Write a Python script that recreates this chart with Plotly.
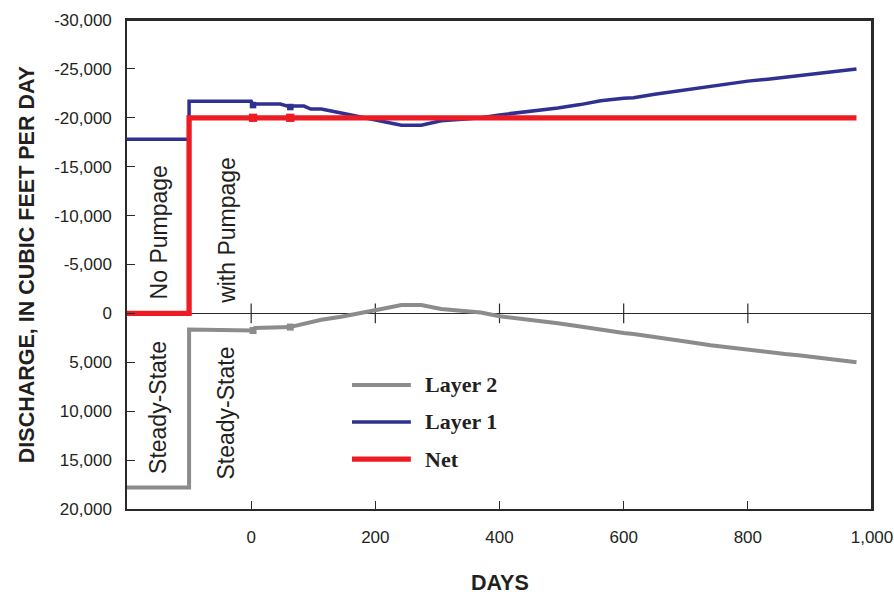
import plotly.graph_objects as go

# ---------------- data ----------------
layer1_days = [-200, -100, -100, 0, 3, 6, 47, 63, 69, 85, 96, 113, 145, 177, 210, 242, 274,
               306, 340, 370, 400, 430, 460, 494, 530, 563, 600, 616, 650, 697, 740, 777,
               800, 832, 860, 885, 910, 938, 960, 975]
layer1_vals = [-17800, -17800, -21700, -21700, -21300, -21400, -21400, -21100, -21200, -21200,
               -20900, -20900, -20500, -20100, -19700, -19250, -19250, -19700, -19850, -20000,
               -20300, -20500, -20700, -21000, -21350, -21750, -22000, -22050, -22400, -22850,
               -23250, -23550, -23750, -23950, -24150, -24300, -24500, -24700, -24850, -25000]

layer2_days = layer1_days
layer2_vals = [17800, 17800, 1650, 1650, 1750, 1500, 1500, 1400, 1300, 1050, 900, 650, 350, 0,
               -450, -850, -850, -450, -250, -100, 300, 500, 700, 1000, 1350, 1700, 2000, 2100,
               2450, 2850, 3250, 3550, 3750, 3950, 4150, 4300, 4500, 4700, 4850, 5000]

net_days = [-200, -100, -100, 3, 63, 975]
net_vals = [0, 0, -20000, -20000, -20000, -20000]

marker_days = [3, 63]

x_tickvals = [0, 200, 400, 600, 800, 1000]
x_ticktext = ["0", "200", "400", "600", "800", "1,000"]
y_tickvals = [-30000, -25000, -20000, -15000, -10000, -5000, 0, 5000, 10000, 15000, 20000]
y_ticktext = ["-30,000", "-25,000", "-20,000", "-15,000", "-10,000", "-5,000", "0",
              "5,000", "10,000", "15,000", "20,000"]

legend_names = ["Layer 2", "Layer 1", "Net"]

# ---------------- styles ----------------
RED = "#ED1C24"
BLUE = "#2E3192"
GRAY = "#8C8C8C"
AXIS = "#2A2A2A"
TXT = "#231F20"
TICKFONT = dict(family="Liberation Sans, Arial", size=17, color=TXT)
TITLEFONT = dict(family="Liberation Sans, Arial", size=21.5, color=TXT)
LABELFONT = dict(family="Liberation Sans, Arial", size=23, color=TXT)
LEGFONT = dict(family="Liberation Serif, Times New Roman, serif", size=22, color=TXT)

fig = go.Figure()

def add_series(days, vals, color, width):
    fig.add_trace(go.Scatter(x=days, y=vals, mode="lines",
                             line=dict(color=color, width=width), showlegend=False,
                             hoverinfo="skip"))
    mx = [d for d in marker_days if d in days]
    my = [vals[days.index(d)] for d in mx]
    fig.add_trace(go.Scatter(x=mx, y=my, mode="markers",
                             marker=dict(symbol="square", size=width + 3, color=color),
                             showlegend=False, hoverinfo="skip"))

# zero-line tick marks (crossing the zero line)
fig.add_trace(go.Scatter(x=x_tickvals[:-1], y=[0] * (len(x_tickvals) - 1), mode="markers",
                         marker=dict(symbol="line-ns-open", size=14, color=AXIS,
                                     line=dict(color=AXIS, width=1.2)),
                         showlegend=False, hoverinfo="skip"))

add_series(layer2_days, layer2_vals, GRAY, 4)
add_series(layer1_days, layer1_vals, BLUE, 3.5)
add_series(net_days, net_vals, RED, 5.3)

# rotated labels in the steady-state region
for txt, xv, yv in [("No Pumpage", -149, -8250), ("with Pumpage", -38, -8500),
                    ("Steady-State", -149, 9600), ("Steady-State", -40, 10200)]:
    fig.add_annotation(x=xv, y=yv, xref="x", yref="y", text=txt, textangle=-90,
                       showarrow=False, font=LABELFONT, xanchor="center", yanchor="middle")

# manual legend
leg_colors = [GRAY, BLUE, RED]
leg_widths = [4, 3.5, 5.3]
leg_y = [0.2536, 0.178, 0.102]
for name, c, w, yy in zip(legend_names, leg_colors, leg_widths, leg_y):
    fig.add_shape(type="line", xref="paper", yref="paper", x0=0.302, x1=0.381, y0=yy, y1=yy,
                  line=dict(color=c, width=w))
    fig.add_annotation(x=0.397, y=yy, xref="paper", yref="paper", text="<b>%s</b>" % name,
                       showarrow=False, xanchor="left", yanchor="middle", font=LEGFONT)

# plot frame (top and right edges)
fig.add_shape(type="line", xref="paper", yref="paper", x0=0, x1=1, y0=1, y1=1,
              line=dict(color=AXIS, width=2), layer="above")
fig.add_shape(type="line", xref="paper", yref="paper", x0=1, x1=1, y0=0, y1=1,
              line=dict(color=AXIS, width=2), layer="above")

# axis titles
fig.add_annotation(x=-0.134, y=0.499, xref="paper", yref="paper",
                   text="<b>DISCHARGE, IN CUBIC FEET PER DAY</b>", textangle=-90,
                   showarrow=False, font=TITLEFONT, xanchor="center", yanchor="middle")
fig.add_annotation(x=0.5, y=-0.151, xref="paper", yref="paper", text="<b>DAYS</b>",
                   showarrow=False, font=TITLEFONT, xanchor="center", yanchor="middle")

fig.update_xaxes(range=[-200, 1000], tickvals=x_tickvals, ticktext=x_ticktext,
                 ticks="inside", ticklen=8, tickwidth=1.2, tickcolor=AXIS,
                 showline=True, linecolor=AXIS, linewidth=1.5, mirror=True,
                 showgrid=False, zeroline=False, tickfont=TICKFONT, ticklabelstandoff=12,
                 ticklabeloverflow="allow", automargin=False)
fig.update_yaxes(range=[20000, -30000], tickvals=y_tickvals, ticktext=y_ticktext,
                 ticks="inside", ticklen=8, tickwidth=1.2, tickcolor=AXIS,
                 showline=True, linecolor=AXIS, linewidth=1.5, mirror=True,
                 showgrid=False, zeroline=True, zerolinecolor=AXIS, zerolinewidth=1.2,
                 tickfont=TICKFONT, ticklabelstandoff=10, ticklabeloverflow="allow",
                 automargin=False)

fig.update_layout(width=894, height=594, margin=dict(l=127, r=22, t=20, b=85),
                  paper_bgcolor="white", plot_bgcolor="white", showlegend=False)

fig.write_html("out.html", config={"displayModeBar": False},
               post_script="document.body.style.margin='0px';"
                           "document.body.style.overflow='hidden';")
